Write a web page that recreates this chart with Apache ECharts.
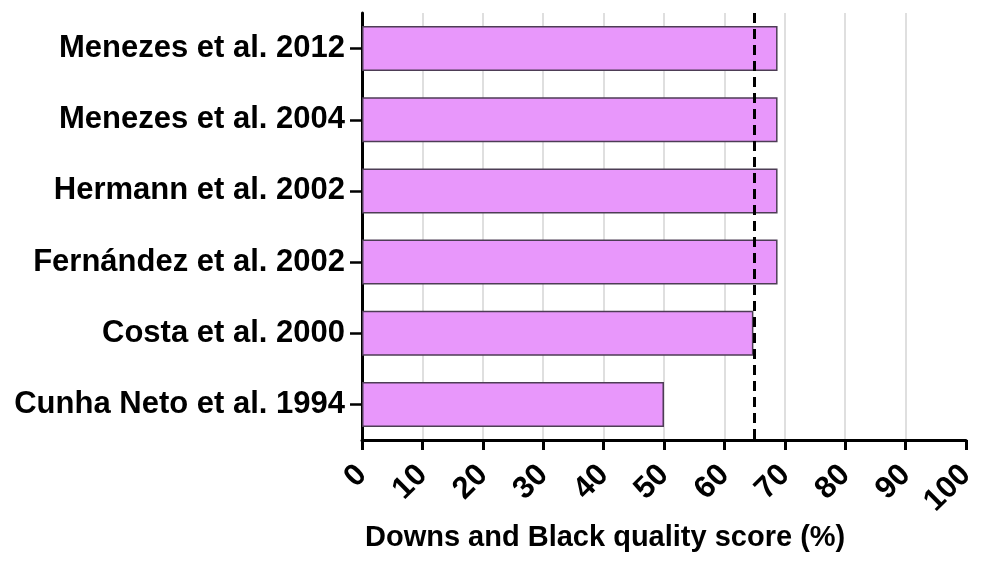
<!DOCTYPE html>
<html>
<head>
<meta charset="utf-8">
<script src="https://cdn.jsdelivr.net/npm/echarts@6/dist/echarts.min.js"></script>
<style>
html,body{margin:0;padding:0;background:#fff;}
#chart{width:984px;height:571px;}
</style>
</head>
<body>
<div id="chart"></div>
<script>
const studies = ['Menezes et al. 2012','Menezes et al. 2004','Hermann et al. 2002','Fernández et al. 2002','Costa et al. 2000','Cunha Neto et al. 1994'];
const scores = [68.8, 68.8, 68.8, 68.8, 64.8, 50];
const threshold = 65;
const xTicks = [0,10,20,30,40,50,60,70,80,90,100];
const axisTitle = 'Downs and Black quality score (%)';

const font = '"Liberation Sans", Arial, Helvetica, sans-serif';
const chart = echarts.init(document.getElementById('chart'), null, {renderer:'canvas'});
chart.setOption({
  animation:false,
  backgroundColor:'#fff',
  title:{
    text: axisTitle,
    left: 365, top: 523, padding: 0,
    textStyle:{fontFamily:font, fontWeight:'bold', fontSize:29, color:'#000'}
  },
  grid:{left:362, right:18, top:13, bottom:131, containLabel:false},
  xAxis:{
    type:'value', min:xTicks[0], max:xTicks[xTicks.length-1], interval:10,
    axisLine:{show:true, lineStyle:{color:'#000', width:3}},
    axisTick:{show:true, length:10, lineStyle:{color:'#000', width:3}},
    axisLabel:{rotate:45, margin:30, fontFamily:font, fontWeight:'bold', fontSize:31, color:'#000'},
    splitLine:{show:true, showMinLine:false, showMaxLine:false, lineStyle:{color:'#d4d4d4', width:1.5}}
  },
  yAxis:{
    type:'category', data:studies, inverse:true,
    axisLine:{show:true, lineStyle:{color:'#000', width:3}},
    axisTick:{show:true, alignWithLabel:true, length:12, lineStyle:{color:'#000', width:2.5}},
    axisLabel:{margin:17, fontFamily:font, fontWeight:'bold', fontSize:31, color:'#000'},
    splitLine:{show:false}
  },
  series:[{
    type:'bar', data:scores, barWidth:45,
    itemStyle:{color:'#E897FB', borderColor:'#4d3d55', borderWidth:1.5},
    markLine:{
      silent:true, symbol:['none','none'], label:{show:false},
      lineStyle:{color:'#000', width:3, type:[10,6]},
      data:[{xAxis:threshold}]
    }
  }]
});
</script>
</body>
</html>
